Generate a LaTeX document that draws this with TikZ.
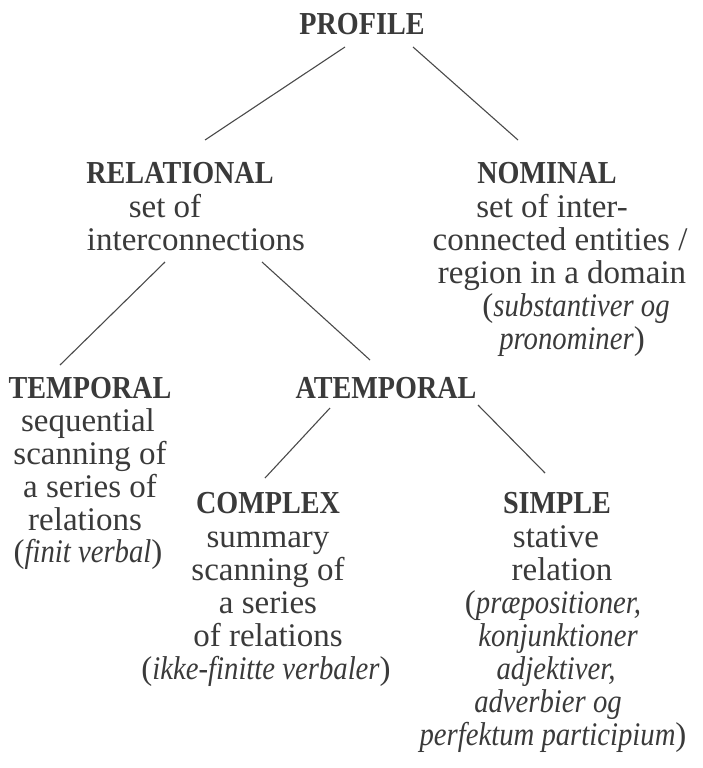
\documentclass[tikz,border=0pt]{standalone}
\usepackage{fontspec}
\setmainfont{Liberation Serif}
\newfontfamily\hdfont[FakeStretch=0.88]{Liberation Serif}
\newfontfamily\itfont[FakeStretch=0.87]{Liberation Serif}
\newcommand{\myit}[1]{{\itfont\itshape #1}}
\definecolor{ink}{HTML}{3A3A3A}
\definecolor{wire}{HTML}{4A4A4A}
\tikzset{
  txt/.style={inner sep=0pt, anchor=base, text=ink, font=\fontsize{33}{33}\selectfont},
  head/.style={inner sep=0pt, anchor=base, text=ink, font=\hdfont\bfseries\fontsize{32}{32}\selectfont},
  link/.style={draw=wire, line width=1.1pt}
}
\begin{document}
\begin{tikzpicture}[x=1pt,y=-1pt]
\useasboundingbox (0,0) rectangle (702,768);
% headings
\node[head] (profile) at (362,35) {PROFILE};
\node[head] (relational) at (180,183) {RELATIONAL};
\node[head] (nominal) at (547,183) {NOMINAL};
\node[head] (temporal) at (90,398) {TEMPORAL};
\node[head] (atemporal) at (386,398) {ATEMPORAL};
\node[head] (complex) at (268,513) {COMPLEX};
\node[head] (simple) at (557,513) {SIMPLE};
% relational
\node[txt] (rel1) at (165,217) {set of};
\node[txt] (rel2) at (196,250) {interconnections};
% nominal
\node[txt] (nom1) at (552,217) {set of inter-};
\node[txt] (nom2) at (560,250) {connected entities /};
\node[txt] (nom3) at (562,283) {region in a domain};
\node[txt] (nom4) at (576,316) {(\myit{substantiver og}};
\node[txt] (nom5) at (572,349) {\myit{pronominer})};
% temporal
\node[txt] (tem1) at (88,431) {sequential};
\node[txt] (tem2) at (90,464) {scanning of};
\node[txt] (tem3) at (90,497) {a series of};
\node[txt] (tem4) at (85,530) {relations};
\node[txt] (tem5) at (88,562) {(\myit{finit verbal})};
% complex
\node[txt] (com1) at (268,547) {summary};
\node[txt] (com2) at (268,580) {scanning of};
\node[txt] (com3) at (268,613) {a series};
\node[txt] (com4) at (268,646) {of relations};
\node[txt] (com5) at (266,679) {(\myit{ikke-finitte verbaler})};
% simple
\node[txt] (sim1) at (556,547) {stative};
\node[txt] (sim2) at (562,580) {relation};
\node[txt] (sim3) at (553,613) {(\myit{præpositioner,}};
\node[txt] (sim4) at (558,646) {\myit{konjunktioner}};
\node[txt] (sim5) at (556,679) {\myit{adjektiver,}};
\node[txt] (sim6) at (548,712) {\myit{adverbier og}};
\node[txt] (sim7) at (553,745) {\myit{perfektum participium})};
% connector end points
\coordinate (pA) at (345,47);
\coordinate (pB) at (413,47);
\coordinate (rTop) at (205,140);
\coordinate (nTop) at (518,140);
\coordinate (rA) at (165,262);
\coordinate (rB) at (262,262);
\coordinate (tTop) at (60,365);
\coordinate (aTop) at (370,360);
\coordinate (aA) at (330,408);
\coordinate (aB) at (478,405);
\coordinate (cTop) at (265,478);
\coordinate (sTop) at (545,473);
\draw[link] (pA) -- (rTop);
\draw[link] (pB) -- (nTop);
\draw[link] (rA) -- (tTop);
\draw[link] (rB) -- (aTop);
\draw[link] (aA) -- (cTop);
\draw[link] (aB) -- (sTop);
\end{tikzpicture}
\end{document}
